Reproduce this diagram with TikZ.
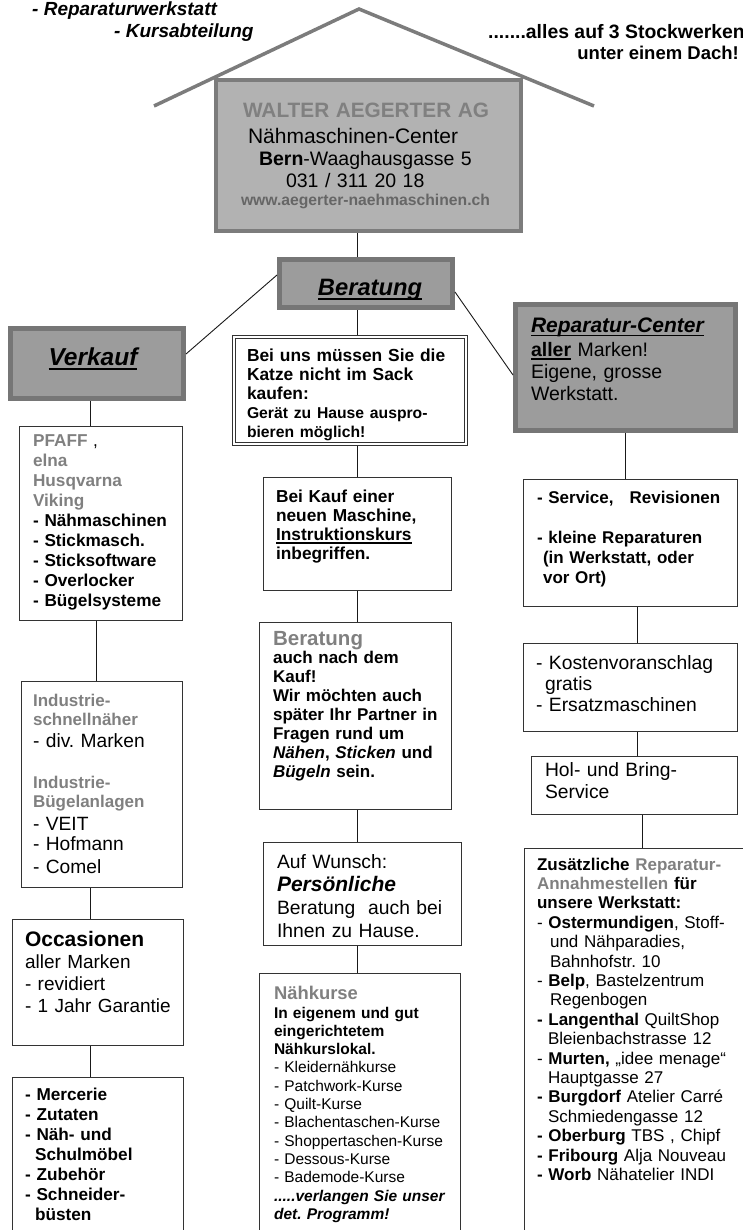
\documentclass[tikz,border=0pt]{standalone}
\usepackage{fontspec}
\setmainfont{Liberation Sans}
\frenchspacing
\definecolor{roofgray}{HTML}{7C7C7C}
\definecolor{mainfill}{HTML}{B2B2B2}
\definecolor{headfill}{HTML}{9C9C9C}
\definecolor{headline}{HTML}{767676}
\definecolor{greytext}{HTML}{808080}
\newcommand{\ulin}[1]{\leavevmode\setbox0=\hbox{#1}\rlap{\rule[-0.2em]{\wd0}{0.08em}}\box0}
\newcommand{\grtxt}[1]{\textcolor{greytext}{#1}}
\newcommand{\grb}[1]{{\fontsize{17}{19}\selectfont\bfseries\color{greytext}#1}}

\begin{document}
\begin{tikzpicture}[x=1pt,y=-1pt,
    box/.style={draw=black!80,line width=1.1pt,anchor=north west,inner ysep=0pt,align=left},
    headbox/.style={box,draw=headline,fill=headfill,line width=5pt,align=center,inner xsep=0pt},
    toptext/.style={font=\fontsize{19}{22}\selectfont\bfseries\itshape,inner sep=0pt},
    link/.style={draw=black!90,line width=0.9pt}]
\useasboundingbox (0,0) rectangle (743,1230);
\draw[roofgray,line width=3.5pt] (154,106) -- (359,9) -- (594,106);
\node[toptext,anchor=base west] (werkstatt) at (32,15.5) {- Reparaturwerkstatt};
\node[toptext,anchor=base west] (kursabt) at (114,38) {- Kursabteilung};
\node[toptext,font=\fontsize{19.4}{22}\selectfont\bfseries,anchor=base west] (stockwerk) at (488,39) {.......alles auf 3 Stockwerken};
\node[toptext,font=\fontsize{18.5}{22}\selectfont\bfseries,anchor=base east] (dach) at (739,60) {unter einem Dach!};

\node[box,draw=roofgray,fill=mainfill,line width=4pt,inner xsep=27pt,text width=251pt,
    text height=37.5pt,text depth=113.5pt,font=\fontsize{19.5}{22}\selectfont] (firma) at (214,78)
  {{\fontsize{20.8}{22}\selectfont\bfseries\color{greytext}WALTER AEGERTER AG}\\[3.7pt]
   \hspace*{5pt}{\fontsize{21}{22}\selectfont Nähmaschinen-Center}\\
   \hspace*{16pt}\textbf{Bern}-Waaghausgasse 5\\
   \hspace*{43pt}031 / 311 20 18\\[-4pt]
   \hspace*{-2pt}{\fontsize{15.7}{18}\selectfont\bfseries\color{black!60}www.aegerter-naehmaschinen.ch}};

\node[headbox,text width=173pt,text height=35.5pt,text depth=12.5pt,
    font=\fontsize{23.7}{26}\selectfont\bfseries\itshape] (beratung) at (277,257) {\hspace*{8pt}\ulin{Beratung}};
\node[headbox,text width=173pt,text height=36.5pt,text depth=33.5pt,
    font=\fontsize{24.5}{26}\selectfont\bfseries\itshape] (verkauf) at (8,326) {\hspace*{-8pt}\ulin{Verkauf}};
\node[headbox,align=left,inner xsep=15.5pt,text width=189pt,text height=27.5pt,text depth=98.5pt,
    font=\fontsize{19.5}{22}\selectfont] (reparatur) at (513,302)
  {{\fontsize{21}{22}\selectfont\bfseries\itshape\ulin{Reparatur-Center}}\\[2pt]
   \textbf{\ulin{aller}} Marken!\\ Eigene, grosse\\ Werkstatt.};

\node[box,double,double distance=2pt,line width=1.2pt,outer sep=2.2pt,inner xsep=12.8pt,text width=206pt,
    text height=23.8pt,text depth=82.8pt,font=\fontsize{17.4}{19}\selectfont\bfseries] (katze) at (232,335)
  {Bei uns müssen Sie die\\ Katze nicht im Sack\\ kaufen:\\
   {\fontsize{15.7}{19}\selectfont Gerät zu Hause auspro-\\ bieren möglich!}};
\node[box,inner xsep=12.5pt,text width=163pt,text height=24.5pt,text depth=88.5pt,
    font=\fontsize{17.3}{19}\selectfont\bfseries] (kauf) at (263,477)
  {Bei Kauf einer\\ neuen Maschine,\\ \ulin{Instruktionskurs}\\ inbegriffen.};
\node[box,inner xsep=13.5pt,text width=165pt,text height=22.5pt,text depth=164.5pt,
    font=\fontsize{17}{19.1}\selectfont\bfseries] (nachkauf) at (259,622)
  {{\fontsize{20.5}{20}\selectfont\grtxt{Beratung}}\\[-1pt]
   auch nach dem\\ Kauf!\\ Wir möchten auch\\ später Ihr Partner in\\ Fragen rund um\\
   \textit{Nähen}, \textit{Sticken} und\\ \textit{Bügeln} sein.};
\node[box,inner xsep=13.5pt,text width=171pt,text height=25.5pt,text depth=77.5pt,
    font=\fontsize{19.3}{23}\selectfont] (wunsch) at (263,842)
  {Auf Wunsch:\\ {\fontsize{21}{23}\selectfont\bfseries\itshape Persönliche}\\
   Beratung\ \ auch bei\\ Ihnen zu Hause.};
\node[box,inner xsep=14.5pt,text width=172pt,text height=25.5pt,text depth=246pt,
    font=\fontsize{15.5}{18.3}\selectfont] (naehkurse) at (259,973)
  {{\fontsize{18.4}{18}\selectfont\bfseries\grtxt{Nähkurse}}\\[0.7pt]
   \textbf{In eigenem und gut}\\ \textbf{eingerichtetem}\\ \textbf{Nähkurslokal.}\\
   - Kleidernähkurse\\ - Patchwork-Kurse\\ - Quilt-Kurse\\ - Blachentaschen-Kurse\\
   - Shoppertaschen-Kurse\\ - Dessous-Kurse\\ - Bademode-Kurse\\
   \textbf{\textit{.....verlangen Sie unser}}\\ \textbf{\textit{det. Programm!}}};

\node[box,inner xsep=13.5pt,text width=187pt,text height=23.5pt,text depth=103.5pt,
    font=\fontsize{17}{20}\selectfont\bfseries] (service) at (523,479)
  {- Service,\hspace{16pt}Revisionen\\[20pt]
   - kleine Reparaturen\\ \hspace*{6pt}(in Werkstatt, oder\\ \hspace*{6pt}vor Ort)};
\node[box,inner xsep=12.5pt,text width=189pt,text height=25.5pt,text depth=62.5pt,
    font=\fontsize{19.3}{21}\selectfont] (kosten) at (523,643)
  {- Kostenvoranschlag\\ \hspace*{9pt}gratis\\ - Ersatzmaschinen};
\node[box,inner xsep=13.5pt,text width=179pt,text height=19.5pt,text depth=38.5pt,
    font=\fontsize{19.3}{22}\selectfont] (holbring) at (531,756) {Hol- und Bring-\\ Service};
\node[box,inner xsep=12.5pt,text width=204pt,text height=21.5pt,text depth=380pt,
    font=\fontsize{17}{19.4}\selectfont] (annahme) at (524,848)
  {\textbf{Zusätzliche \grtxt{Reparatur-}}\\
   \textbf{\grtxt{Annahmestellen} für}\\
   \textbf{unsere Werkstatt:}\\
   - \textbf{Ostermundigen}, Stoff-\\
   \hspace*{13pt}und Nähparadies,\\
   \hspace*{13pt}Bahnhofstr. 10\\
   - \textbf{Belp}, Bastelzentrum\\
   \hspace*{13pt}Regenbogen\\
   \textbf{- Langenthal} QuiltShop\\
   \hspace*{11pt}Bleienbachstrasse 12\\
   - \textbf{Murten,} „idee menage“\\
   \hspace*{11pt}Hauptgasse 27\\
   \textbf{- Burgdorf} Atelier Carré\\
   \hspace*{11pt}Schmiedengasse 12\\
   \textbf{- Oberburg} TBS , Chipf\\
   \textbf{- Fribourg} Alja Nouveau\\
   \textbf{- Worb} Nähatelier INDI};

\node[box,inner xsep=13.5pt,text width=136pt,text height=19.5pt,text depth=174.5pt,
    font=\fontsize{17.2}{20}\selectfont\bfseries] (marken) at (19,426)
  {\grtxt{PFAFF} {\mdseries,}\\ \grtxt{elna}\\ \grtxt{Husqvarna}\\ \grtxt{Viking}\\
   - Nähmaschinen\\ - Stickmasch.\\ - Sticksoftware\\ - Overlocker\\ - Bügelsysteme};
\node[box,inner xsep=11.5pt,text width=138pt,text height=24.5pt,text depth=181.5pt,
    font=\fontsize{19.2}{19}\selectfont] (industrie) at (21,681)
  {\grb{Industrie-}\\ \grb{schnellnäher}\\[3pt] - div. Marken\\[22pt]
   \grb{Industrie-}\\ \grb{Bügelanlagen}\\[4pt] - VEIT\\[1pt] - Hofmann\\[4pt] - Comel};
\node[box,inner xsep=12.5pt,text width=146pt,text height=26.5pt,text depth=99.5pt,
    font=\fontsize{19}{22.3}\selectfont] (occasion) at (12,919)
  {{\fontsize{21}{22}\selectfont\bfseries Occasionen}\\ aller Marken\\ - revidiert\\ - 1 Jahr Garantie};
\node[box,inner xsep=12.5pt,text width=146pt,text height=22.5pt,text depth=150pt,
    font=\fontsize{17.2}{20}\selectfont\bfseries] (mercerie) at (12,1077)
  {- Mercerie\\ - Zutaten\\ - Näh- und\\ \hspace*{10pt}Schulmöbel\\ - Zubehör\\ - Schneider-\\ \hspace*{10pt}büsten};

\foreach \a/\b/\x in {firma/beratung/357,beratung/katze/357,katze/kauf/357,kauf/nachkauf/357,
    nachkauf/wunsch/357,wunsch/naehkurse/357,verkauf/marken/90,marken/industrie/96,
    industrie/occasion/90,occasion/mercerie/90,reparatur/service/625,service/kosten/637,
    kosten/holbring/637,holbring/annahme/642}
  \draw[link] (\a.south -| \x,0) -- (\b.north -| \x,0);
\draw[link] ([yshift=8.5pt]beratung.west) -- ([yshift=9.5pt]verkauf.east);
\draw[link] ([yshift=-8.5pt]beratung.east) -- ([yshift=-7.5pt]reparatur.west);
\end{tikzpicture}
\end{document}
